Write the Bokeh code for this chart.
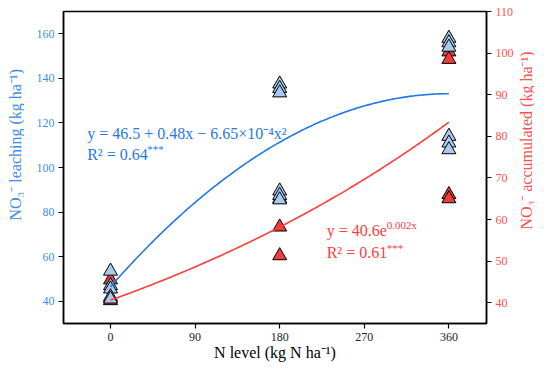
import math
import numpy as np
from bokeh.plotting import figure
from bokeh.layouts import row
from bokeh.models import Range1d, LinearAxis, FixedTicker, Label
from bokeh.embed import file_html
from bokeh.resources import INLINE

# ---- data ----
leach_x = [0, 0, 0, 0, 0,
           180, 180, 180, 180, 180, 180,
           360, 360, 360, 360, 360, 360]
leach_y = [53.5, 47.0, 45.5, 42.0, 41.0,
           137.5, 135.5, 133.5, 89.5, 87.5, 85.5,
           158.0, 156.0, 154.0, 114.0, 111.0, 108.0]

accum_x = [0, 0, 0,
           180, 180, 180,
           360, 360, 360, 360]
accum_y = [45.5, 41.0, 40.5,
           65.0, 58.2, 51.3,
           100.3, 98.5, 66.0, 65.0]

x_ticks = [0, 90, 180, 270, 360]
left_ticks = [40, 60, 80, 100, 120, 140, 160]
right_ticks = [40, 50, 60, 70, 80, 90, 100, 110]

x_title = "N level (kg N ha⁻¹)"
left_title = "NO₃⁻ leaching (kg ha⁻¹)"
right_title = "NO₃⁻ accumulated (kg ha⁻¹)"

# regression equations shown on the chart
quad_a, quad_b, quad_c = 46.5, 0.48, -6.65e-4
exp_a, exp_b = 40.6, 0.002

BLUE = "#1f78e6"
BLUE_TICK = "#3c8de8"
RED = "#ff3b3b"
RED_TICK = "#ff5050"
FONT = "Liberation Serif"

H = 363
LW, RW = 24, 18
MW = 534 - LW - RW

p = figure(width=MW, height=H, x_range=Range1d(-50, 400), y_range=Range1d(30, 170),
           output_backend="svg", toolbar_location=None,
           min_border_left=39, min_border_right=28, min_border_top=11, min_border_bottom=36)
p.extra_y_ranges = {"right": Range1d(35, 110)}
p.grid.visible = False
p.outline_line_color = "black"
p.outline_line_width = 1.5
p.background_fill_color = "white"

# axes
xa = p.xaxis[0]
xa.ticker = FixedTicker(ticks=x_ticks)
xa.axis_label = x_title
ya = p.yaxis[0]
ya.ticker = FixedTicker(ticks=left_ticks)
ra = LinearAxis(y_range_name="right", ticker=FixedTicker(ticks=right_ticks))
p.add_layout(ra, "right")

for ax in (xa, ya, ra):
    ax.axis_line_color = "black"
    ax.axis_line_width = 1.5
    ax.major_tick_line_color = "black"
    ax.major_tick_line_width = 1.2
    ax.major_tick_out = 5
    ax.major_tick_in = 0
    ax.minor_tick_line_color = None
    ax.major_label_text_font = FONT
    ax.major_label_text_font_size = "12px"
    ax.major_label_standoff = 4

xa.major_label_standoff = 4
xa.axis_label_standoff = 0
xa.axis_label_text_font = FONT
xa.axis_label_text_font_size = "16px"
xa.axis_label_text_font_style = "normal"
xa.axis_label_text_color = "black"
xa.major_label_text_color = "#222222"
ya.major_label_text_color = BLUE_TICK
ra.major_label_text_color = RED_TICK

# points
p.scatter(accum_x, accum_y, y_range_name="right", marker="triangle", size=14,
          fill_color="#f03c3c", line_color="black", line_width=1)
p.scatter(leach_x, leach_y, marker="triangle", size=14,
          fill_color="#a9cbee", line_color="black", line_width=1)

# fit curves
xf = np.linspace(0, 360, 200)
p.line(xf, quad_a + quad_b * xf + quad_c * xf ** 2, line_color=BLUE, line_width=1.6)
p.line(xf, exp_a * np.exp(exp_b * xf), y_range_name="right", line_color=RED, line_width=1.6)

# annotations
def lab(fig, x, y, text, color, size="16px", xo=0, yo=0, yr="default",
        align="left", baseline="alphabetic", angle=0.0):
    fig.add_layout(Label(x=x, y=y, text=text, text_color=color, text_font=FONT,
                         text_font_size=size, x_offset=xo, y_offset=yo,
                         text_align=align, text_baseline=baseline, angle=angle,
                         y_range_name=yr))

lab(p, -24.8, 115.3, "y = 46.5 + 0.48x − 6.65×10⁻⁴x²", BLUE)
lab(p, -24.8, 106.0, "R² = 0.64", BLUE)
lab(p, -24.8, 106.0, "***", BLUE, size="11px", xo=60, yo=5)

lab(p, 230, 57.3, "y = 40.6e", RED, yr="right")
lab(p, 230, 57.3, "0.002x", RED, size="11px", xo=60, yo=6, yr="right")
lab(p, 230, 52.0, "R² = 0.61", RED, yr="right")
lab(p, 230, 52.0, "***", RED, size="11px", xo=60, yo=5, yr="right")


# side strips holding the rotated y-axis titles
def strip(width, cx, cy, text, color):
    s = figure(width=width, height=H, x_range=Range1d(0, width), y_range=Range1d(0, H),
               output_backend="svg", toolbar_location=None,
               min_border_left=0, min_border_right=0, min_border_top=0, min_border_bottom=0)
    s.axis.visible = False
    s.grid.visible = False
    s.outline_line_color = None
    lab(s, cx, H - cy, text, color, align="center", baseline="middle", angle=math.pi / 2)
    return s


left_strip = strip(LW, 15, 155, left_title, BLUE_TICK)
right_strip = strip(RW, 10, 150, right_title, RED_TICK)

layout = row(left_strip, p, right_strip, spacing=0)

open("out.html", "w").write(file_html(layout, INLINE))
